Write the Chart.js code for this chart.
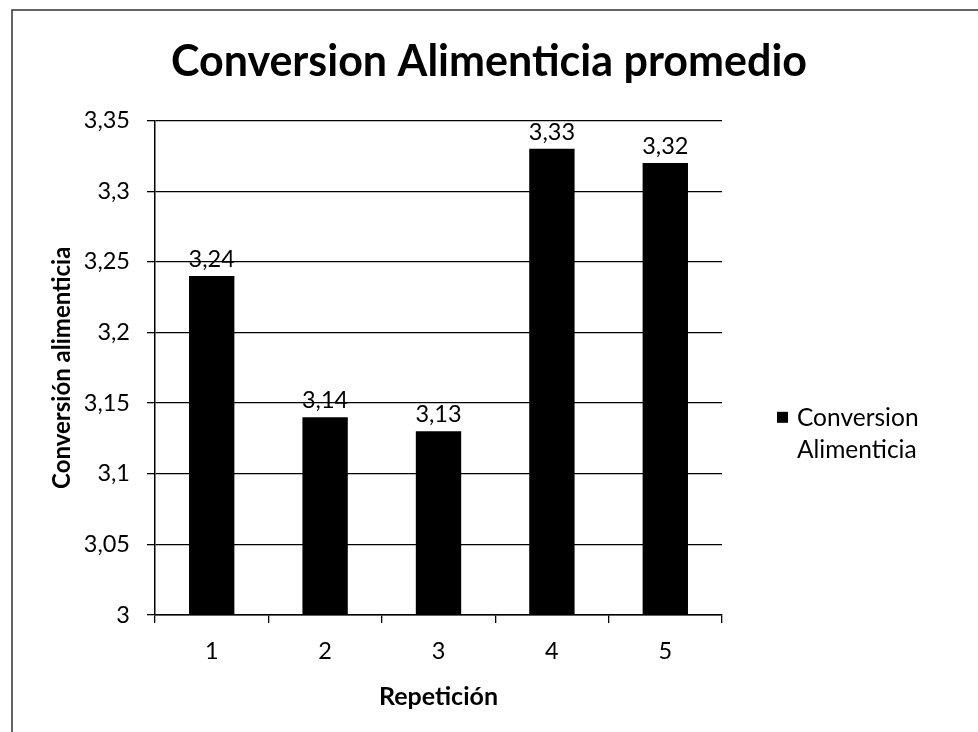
<!DOCTYPE html>
<html>
<head>
<meta charset="utf-8">
<script src="https://cdn.jsdelivr.net/npm/chart.js@4.4.1/dist/chart.umd.min.js"></script>
<style>
  html, body { margin: 0; padding: 0; background: #fff; }
  #wrap { width: 978px; height: 732px; position: relative; }
</style>
</head>
<body>
<div id="wrap"><canvas id="c" width="978" height="732"></canvas></div>
<script>
const chartTitle = 'Conversion Alimenticia promedio';
const categories = ['1', '2', '3', '4', '5'];
const seriesName = ['Conversion', 'Alimenticia'];
const values = [3.24, 3.14, 3.13, 3.33, 3.32];
const yTitle = 'Conversión alimenticia';
const xTitle = 'Repetición';
const yMin = 3, yMax = 3.35, yStep = 0.05;

const FONT = 'Lato, "Open Sans", sans-serif';
const fmt = v => Number(Number(v).toFixed(2)).toString().replace('.', ',');

const borderPlugin = {
  id: 'frame',
  beforeDraw(chart) {
    const ctx = chart.ctx;
    ctx.save();
    ctx.fillStyle = '#fff';
    ctx.fillRect(0, 0, chart.width, chart.height);
    ctx.strokeStyle = '#333';
    ctx.lineWidth = 1.5;
    ctx.beginPath();
    ctx.moveTo(12, chart.height + 2);
    ctx.lineTo(12, 10);
    ctx.lineTo(chart.width + 2, 10);
    ctx.stroke();
    ctx.restore();
  }
};

const labelPlugin = {
  id: 'valueLabels',
  afterDatasetsDraw(chart) {
    const ctx = chart.ctx;
    const meta = chart.getDatasetMeta(0);
    ctx.save();
    ctx.font = '23.5px ' + FONT;
    ctx.fillStyle = '#000';
    ctx.textAlign = 'center';
    ctx.textBaseline = 'alphabetic';
    meta.data.forEach((bar, i) => {
      ctx.fillText(fmt(chart.data.datasets[0].data[i]), bar.x, bar.y - 9);
    });
    ctx.restore();
  }
};

const legendPlugin = {
  id: 'sideLegend',
  afterDraw(chart) {
    const ctx = chart.ctx;
    const area = chart.chartArea;
    const x0 = area.right + 55;
    const yc = (area.top + area.bottom) / 2 + 50;
    ctx.save();
    ctx.fillStyle = '#000';
    ctx.fillRect(x0, yc - 6, 11, 11);
    ctx.font = '24.5px ' + FONT;
    ctx.textAlign = 'left';
    ctx.textBaseline = 'middle';
    ctx.fillText(seriesName[0], x0 + 20, yc);
    ctx.fillText(seriesName[1], x0 + 20, yc + 32);
    ctx.restore();
  }
};

new Chart(document.getElementById('c'), {
  type: 'bar',
  data: {
    labels: categories,
    datasets: [{
      label: seriesName.join(' '),
      data: values,
      backgroundColor: '#000',
      borderWidth: 0,
      barPercentage: 0.4,
      categoryPercentage: 1.0
    }]
  },
  options: {
    responsive: false,
    animation: false,
    layout: { padding: 0 },
    plugins: {
      legend: { display: false },
      tooltip: { enabled: false },
      title: {
        display: true,
        text: chartTitle,
        color: '#000',
        font: { family: FONT, size: 43, weight: 'bold', lineHeight: 1.2 },
        padding: { top: 36, bottom: 33 }
      }
    },
    scales: {
      x: {
        offset: true,
        afterFit(s) { s.height = 117; },
        grid: { display: true, drawOnChartArea: false, drawTicks: true, tickLength: 8, color: '#000', lineWidth: 1.3, offset: true },
        border: { display: true, color: '#000', width: 1.5 },
        ticks: { color: '#000', font: { family: FONT, size: 23.5 }, padding: 14 },
        title: {
          display: true, text: xTitle, color: '#000',
          font: { family: FONT, size: 25, weight: 'bold', lineHeight: 1.2 },
          padding: { top: 4, bottom: 20 }
        }
      },
      y: {
        min: yMin, max: yMax,
        afterFit(s) { s.width = 155; },
        ticks: {
          stepSize: yStep, color: '#000', padding: 17,
          font: { family: FONT, size: 23.5 },
          callback: v => fmt(v)
        },
        grid: { color: '#000', lineWidth: 1.3, drawTicks: true, tickLength: 8 },
        border: { display: true, color: '#000', width: 1.5 },
        title: {
          display: true, text: yTitle, color: '#000',
          font: { family: FONT, size: 24, weight: 'bold', lineHeight: 1.2 },
          padding: { top: 47.6, bottom: 0 }
        }
      },
      legendSpace: {
        type: 'linear',
        position: 'right',
        display: true,
        afterFit(s) { s.width = 256; },
        grid: { display: false, drawTicks: false },
        border: { display: false },
        ticks: { display: false },
        title: { display: false }
      }
    }
  },
  plugins: [borderPlugin, labelPlugin, legendPlugin]
});
</script>
</body>
</html>
